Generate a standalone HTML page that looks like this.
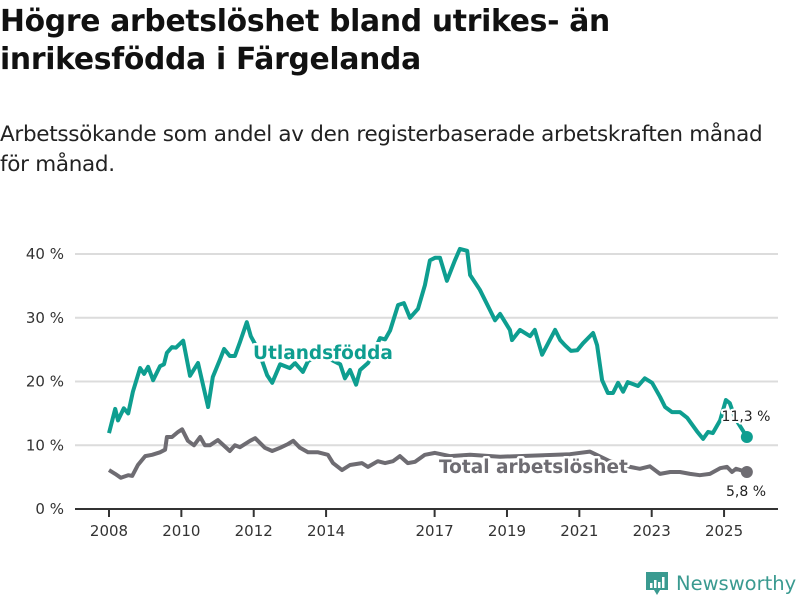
<!DOCTYPE html>
<html><head><meta charset="utf-8">
<style>
body{margin:0;background:#fff;width:800px;height:600px;overflow:hidden;font-family:"Liberation Sans","DejaVu Sans",sans-serif;}
h1{position:absolute;left:0;top:3px;margin:0;font-size:29.8px;line-height:38px;font-weight:bold;color:#111;font-family:"DejaVu Sans","Liberation Sans",sans-serif;letter-spacing:-0.3px;}
p{position:absolute;left:0;top:120px;margin:0;font-size:21.5px;line-height:30px;color:#222;font-family:"DejaVu Sans","Liberation Sans",sans-serif;letter-spacing:-0.3px;}
svg{position:absolute;left:0;top:0;}
</style></head><body>
<h1>Högre arbetslöshet bland utrikes- än<br>inrikesfödda i Färgelanda</h1>
<p>Arbetssökande som andel av den registerbaserade arbetskraften månad<br>för månad.</p>
<svg id="chart" width="800" height="600"></svg>
<script>
const utlYears=[2008.0,2008.17,2008.25,2008.41,2008.53,2008.66,2008.86,2008.97,2009.08,2009.22,2009.41,2009.52,2009.60,2009.74,2009.85,2010.05,2010.24,2010.46,2010.74,2010.87,2011.07,2011.18,2011.34,2011.48,2011.62,2011.81,2011.92,2012.12,2012.37,2012.51,2012.73,2013.0,2013.14,2013.36,2013.50,2013.78,2014.11,2014.39,2014.52,2014.66,2014.83,2014.94,2015.16,2015.35,2015.49,2015.63,2015.77,2015.99,2016.15,2016.32,2016.54,2016.73,2016.87,2017.01,2017.15,2017.34,2017.56,2017.70,2017.90,2017.98,2018.25,2018.53,2018.67,2018.81,2019.08,2019.14,2019.36,2019.64,2019.77,2019.97,2020.33,2020.47,2020.60,2020.77,2020.94,2021.10,2021.38,2021.49,2021.63,2021.79,2021.93,2022.07,2022.21,2022.34,2022.62,2022.81,2023.01,2023.23,2023.37,2023.56,2023.78,2023.98,2024.25,2024.42,2024.56,2024.69,2024.89,2025.05,2025.16,2025.30,2025.63];
const utlValues=[11.9,15.7,13.9,15.8,15.0,18.4,22.1,21.2,22.3,20.2,22.4,22.7,24.5,25.4,25.3,26.4,20.9,22.9,16.0,20.7,23.5,25.1,24.0,24.0,26.2,29.3,27.1,25.0,21.0,19.8,22.7,22.1,22.9,21.5,23.2,24.0,23.5,22.7,20.5,21.8,19.5,21.8,22.9,25.0,26.8,26.6,28.0,32.0,32.3,30.0,31.4,35.1,39.0,39.4,39.4,35.8,39.0,40.8,40.5,36.7,34.4,31.2,29.6,30.6,28.1,26.5,28.1,27.1,28.1,24.2,28.1,26.5,25.7,24.8,24.9,26.0,27.6,25.7,20.2,18.2,18.2,19.8,18.4,19.9,19.3,20.5,19.8,17.6,16.0,15.2,15.2,14.3,12.2,11.0,12.1,11.9,13.9,17.1,16.6,14.3,11.3];
const totYears=[2008.0,2008.17,2008.33,2008.53,2008.64,2008.80,2009.0,2009.19,2009.41,2009.55,2009.60,2009.74,2009.91,2010.02,2010.18,2010.35,2010.52,2010.65,2010.79,2011.01,2011.34,2011.48,2011.62,2011.90,2012.04,2012.31,2012.51,2012.73,2012.95,2013.09,2013.28,2013.50,2013.78,2014.05,2014.19,2014.44,2014.66,2014.99,2015.16,2015.43,2015.63,2015.85,2016.04,2016.26,2016.46,2016.73,2017.01,2017.42,2017.98,2018.81,2019.91,2020.74,2021.29,2021.84,2022.40,2022.67,2022.95,2023.23,2023.51,2023.78,2024.06,2024.33,2024.61,2024.89,2025.08,2025.22,2025.33,2025.63];
const totValues=[6.1,5.5,4.9,5.3,5.2,6.9,8.3,8.5,8.9,9.3,11.3,11.3,12.1,12.5,10.7,10.0,11.3,10.0,10.0,10.8,9.1,10.0,9.7,10.7,11.1,9.6,9.1,9.6,10.2,10.7,9.6,8.9,8.9,8.5,7.2,6.1,6.9,7.2,6.6,7.5,7.2,7.5,8.3,7.2,7.4,8.5,8.8,8.3,8.5,8.2,8.4,8.6,9.0,7.5,6.6,6.3,6.7,5.5,5.8,5.8,5.5,5.3,5.5,6.4,6.6,5.8,6.3,5.8];
const yTicks=[0,10,20,30,40];
const xTicks=[2008,2010,2012,2014,2017,2019,2021,2023,2025];

const NS='http://www.w3.org/2000/svg';
const svg=document.getElementById('chart');
function X(y){return 109+(y-2008)*36.18;}
function Y(v){return 509-v*6.375;}
function mk(t,a,p){const e=document.createElementNS(NS,t);for(const k in a)e.setAttribute(k,a[k]);(p||svg).appendChild(e);return e;}

yTicks.forEach(t=>{
  if(t>0){const g=mk('line',{x1:75,x2:778,y1:Y(t),y2:Y(t),stroke:'#dcdcdc','stroke-width':2});
  
  }
  const l=mk('text',{x:64,y:Y(t)+5,'text-anchor':'end','font-size':15,fill:'#333','font-family':'DejaVu Sans, Liberation Sans, sans-serif'});
  l.textContent=t+' %';
  
  
});
const ax=mk('line',{x1:75,x2:778,y1:509,y2:509,stroke:'#333','stroke-width':2});


xTicks.forEach(t=>{
  mk('line',{x1:X(t),x2:X(t),y1:509,y2:517,stroke:'#333','stroke-width':2});
  const l=mk('text',{x:X(t),y:536,'text-anchor':'middle','font-size':15,fill:'#333','font-family':'DejaVu Sans, Liberation Sans, sans-serif'});
  l.textContent=t;
  
  
});
function line(xs,vs,col,name){
  const d=xs.map((x,i)=>(i?'L':'M')+X(x).toFixed(1)+','+Y(vs[i]).toFixed(1)).join('');
  const p=mk('path',{d:d,fill:'none',stroke:col,'stroke-width':4,'stroke-linejoin':'round'});
  
  
  const n=xs.length-1;
  const c=mk('circle',{cx:X(xs[n]),cy:Y(vs[n]),r:6,fill:col});
  
  
}
line(totYears,totValues,'#6e6c72','total-line');
line(utlYears,utlValues,'#0e9e90','utlandsfodda-line');

function lbl(x,y,txt,col,size,bold,name,anchor){
  const t=mk('text',{x:x,y:y,'font-size':size,'font-weight':bold?'bold':'normal',fill:col,stroke:'#fff','stroke-width':bold?5:4,'paint-order':'stroke','stroke-linejoin':'round','text-anchor':anchor||'start','font-family':'DejaVu Sans, Liberation Sans, sans-serif'});
  t.textContent=txt;
  
  
}
lbl(253,359,'Utlandsfödda','#0e9e90',18.5,true,'utlandsfodda-label');
lbl(439,473,'Total arbetslöshet','#6e6c72',18.5,true,'total-label');
lbl(746,421,'11,3 %','#222',14,false,'utlandsfodda-end-value','middle');
lbl(746,496,'5,8 %','#222',14,false,'total-end-value','middle');

const lg=mk('g',{});


mk('path',{d:'M646,572 h22 v18 h-8 l-3,5 l-3,-5 h-8 z',fill:'#3a9a90'},lg);
mk('rect',{x:650,y:583,width:2.5,height:5,fill:'#fff'},lg);
mk('rect',{x:654,y:580,width:2.5,height:8,fill:'#fff'},lg);
mk('rect',{x:658,y:582,width:2.5,height:6,fill:'#fff'},lg);
mk('rect',{x:662,y:577,width:2.5,height:11,fill:'#fff'},lg);
const lt=mk('text',{x:676,y:590,'font-size':19.5,fill:'#3a9a90','font-family':'DejaVu Sans, Liberation Sans, sans-serif'},lg);
lt.textContent='Newsworthy';
</script>
</body></html>
